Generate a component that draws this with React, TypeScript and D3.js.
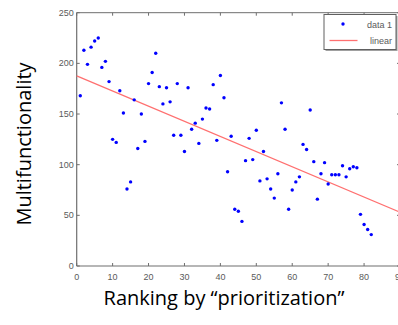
import React from "react";
import * as d3 from "d3";

// Rank of each item by "prioritization"
const ranks: number[] = [
  1, 2, 3, 4, 5, 6, 7, 8, 9, 10, 11, 12, 13, 14, 15, 16, 17, 18, 19, 20,
  21, 22, 23, 24, 25, 26, 27, 28, 29, 30, 31, 32, 33, 34, 35, 36, 37, 38, 39, 40,
  41, 42, 43, 44, 45, 46, 47, 48, 49, 50, 51, 52, 53, 54, 55, 56, 57, 58, 59, 60,
  61, 62, 63, 64, 65, 66, 67, 68, 69, 70, 71, 72, 73, 74, 75, 76, 77, 78, 79, 80,
  81, 82,
];

// Multifunctionality score for each ranked item
const multifunctionality: number[] = [
  168, 213, 199, 216, 222, 225, 196, 202, 182, 125, 122, 173, 151, 76, 83, 164, 116, 150, 123, 180,
  191, 210, 177, 160, 176, 162, 129, 180, 129, 113, 176, 135, 141, 121, 145, 156, 155, 179, 124, 188,
  166, 93, 128, 56, 54, 44, 104, 126, 105, 134, 84, 113, 86, 76, 67, 91, 161, 135, 56, 75,
  83, 88, 120, 115, 154, 103, 66, 91, 102, 81, 90, 90, 90, 99, 88, 96, 98, 97, 51, 41,
  36, 31,
];

const xTicks: number[] = [0, 10, 20, 30, 40, 50, 60, 70, 80, 90];
const yTicks: number[] = [0, 50, 100, 150, 200, 250];
const legendLabels: string[] = ["data 1", "linear"];

const W = 398;
const H = 325;
const plot = { left: 76.7, right: 400, top: 12.7, bottom: 266 };

// Ordinary least-squares fit of score against rank
function linearFit(xs: number[], ys: number[]) {
  const mx = d3.mean(xs) as number;
  const my = d3.mean(ys) as number;
  let sxy = 0;
  let sxx = 0;
  xs.forEach((x, i) => {
    sxy += (x - mx) * (ys[i] - my);
    sxx += (x - mx) * (x - mx);
  });
  const slope = sxy / sxx;
  return { slope, intercept: my - slope * mx };
}

export default function App() {
  const x = d3.scaleLinear().domain([0, 90]).range([plot.left, plot.right]);
  const y = d3.scaleLinear().domain([0, 250]).range([plot.bottom, plot.top]);
  const fit = linearFit(ranks, multifunctionality);
  const fitLine = d3
    .line<number>()
    .x((d) => x(d))
    .y((d) => y(fit.intercept + fit.slope * d));

  const axisColor = "#6e6e6e";
  const tickText = "#5a5a5a";
  const tickLen = 3;

  return (
    <svg
      width={W}
      height={H}
      style={{ position: "absolute", left: 0, top: 0, background: "#fff" }}
    >
      {/* plot frame: top and left/bottom edges */}
      <line x1={plot.left} x2={plot.right} y1={plot.top} y2={plot.top} stroke={axisColor} strokeWidth={1} />
      <line x1={plot.left} x2={plot.right} y1={plot.bottom} y2={plot.bottom} stroke={axisColor} strokeWidth={1.2} />
      <line x1={plot.left} x2={plot.left} y1={plot.top} y2={plot.bottom} stroke={axisColor} strokeWidth={1.2} />

      {/* x ticks (inward, bottom and top) */}
      {xTicks.map((t) => (
        <g key={`xt${t}`}>
          <line x1={x(t)} x2={x(t)} y1={plot.bottom} y2={plot.bottom - tickLen} stroke={axisColor} />
          <line x1={x(t)} x2={x(t)} y1={plot.top} y2={plot.top + tickLen} stroke={axisColor} />
          <text
            x={x(t)}
            y={plot.bottom + 14}
            textAnchor="middle"
            fontFamily="Liberation Sans, Arial, sans-serif"
            fontSize={9}
            fill={tickText}
          >
            {t}
          </text>
        </g>
      ))}

      {/* y ticks (inward, left and right) */}
      {yTicks.map((t) => (
        <g key={`yt${t}`}>
          <line x1={plot.left} x2={plot.left + tickLen} y1={y(t)} y2={y(t)} stroke={axisColor} />
          <line x1={plot.right - tickLen} x2={plot.right} y1={y(t)} y2={y(t)} stroke={axisColor} />
          <text
            x={plot.left - 3}
            y={y(t) + 3}
            textAnchor="end"
            fontFamily="Liberation Sans, Arial, sans-serif"
            fontSize={9}
            fill={tickText}
          >
            {t}
          </text>
        </g>
      ))}

      {/* fitted trend */}
      <path d={fitLine([0, 90]) ?? ""} fill="none" stroke="#ff7070" strokeWidth={1.3} />

      {/* observations */}
      {ranks.map((r, i) => (
        <circle key={`p${i}`} cx={x(r)} cy={y(multifunctionality[i])} r={1.7} fill="#0000ff" />
      ))}

      {/* legend */}
      <g>
        <rect x={325.5} y={16} width={72} height={35} fill="#a0a0a0" />
        <rect x={324} y={14.5} width={72} height={35} fill="#fff" stroke="#606060" strokeWidth={1} />
        <circle cx={343} cy={24} r={1.7} fill="#0000ff" />
        <text x={392} y={27.5} textAnchor="end" fontFamily="Liberation Sans, Arial, sans-serif" fontSize={9} fill={tickText}>
          {legendLabels[0]}
        </text>
        <line x1={329.5} x2={357.5} y1={40.5} y2={40.5} stroke="#ff7070" strokeWidth={1.3} />
        <text x={392} y={44} textAnchor="end" fontFamily="Liberation Sans, Arial, sans-serif" fontSize={9} fill={tickText}>
          {legendLabels[1]}
        </text>
      </g>

      {/* axis titles */}
      <text
        x={224}
        y={305}
        textAnchor="middle"
        fontFamily="Open Sans, Noto Sans, sans-serif"
        fontSize={20}
        fill="#000"
      >
        Ranking by “prioritization”
      </text>
      <text
        transform="translate(31,144) rotate(-90)"
        textAnchor="middle"
        fontFamily="Open Sans, Noto Sans, sans-serif"
        fontSize={20}
        fill="#000"
      >
        Multifunctionality
      </text>
    </svg>
  );
}
